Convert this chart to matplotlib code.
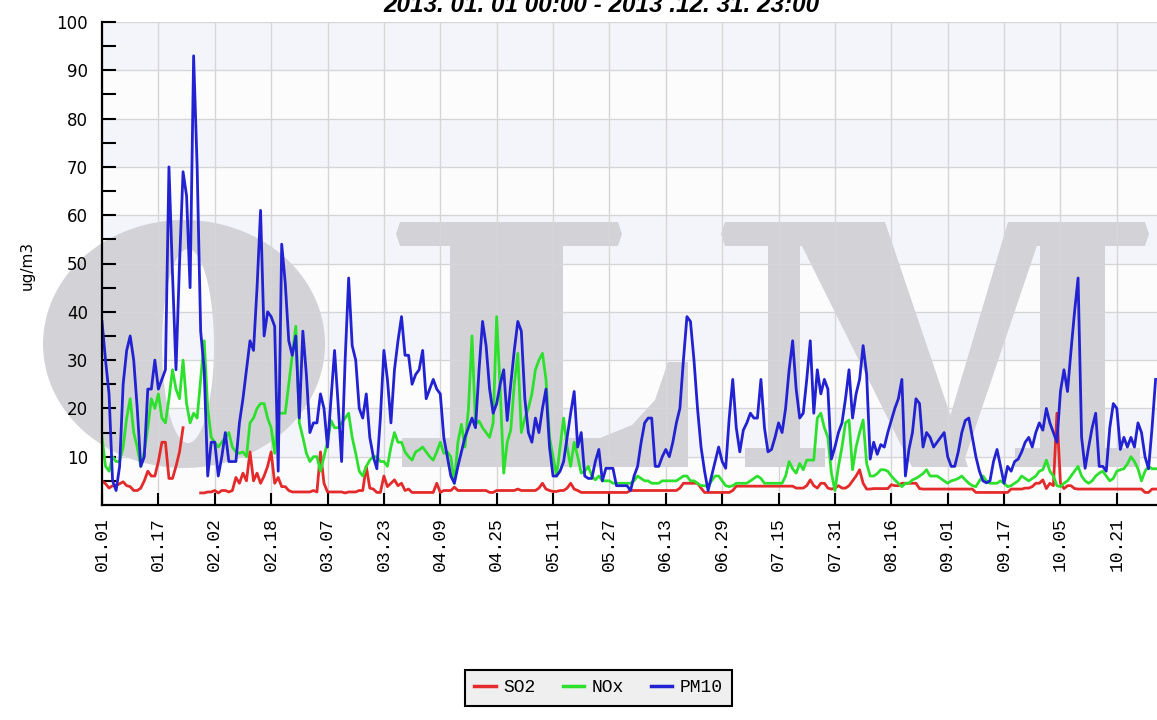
import numpy as np
import matplotlib
matplotlib.use("Agg")
import matplotlib.pyplot as plt
from matplotlib.path import Path
from matplotlib.patches import PathPatch, Polygon
from matplotlib.font_manager import FontProperties
from matplotlib.lines import Line2D

W, H = 1157, 720
nan = float("nan")

title = "2013. 01. 01 00:00 - 2013 .12. 31. 23:00"
tick_labels = ["01.01", "01.17", "02.02", "02.18", "03.07", "03.23", "04.09",
               "04.25", "05.11", "05.27", "06.13", "06.29", "07.15", "07.31",
               "08.16", "09.01", "09.17", "10.05", "10.21"]

# daily means, ug/m3
pm10 = [38, 30, 23, 5, 3, 8, 25, 32, 35, 30,
        20, 8, 10, 24, 24, 30, 24, 26, 28, 70,
        48, 28, 50, 69, 64, 45, 93, 70, 36, 28,
        6, 13, 13, 6, 10, 15, 9, 9, 9, 17,
        22, 28, 34, 32, 45, 61, 35, 40, 39, 37,
        7, 54, 46, 34, 31, 35, 18, 36, 27, 15,
        17, 17, 23, 20, 12, 22, 32, 21, 9, 30,
        47, 33, 30, 20, 18, 23, 14, 10, 7.5, 18,
        32, 26, 17, 28, 34, 39, 31, 31, 25, 27,
        28, 32, 22, 24, 26, 24, 23, 14, 10, 6,
        4.5, 8, 11, 14, 16, 18, 16, 28, 38, 33,
        24, 19, 21, 25, 28, 17.5, 25, 32, 38, 36,
        22, 15, 13, 18, 15, 20, 24, 12, 6, 6,
        7, 9, 14, 19, 23.5, 12, 15, 6, 5.5, 5.5,
        9, 11.5, 5, 7.6, 7.6, 7.6, 4, 4, 4, 4,
        3, 6, 8, 13, 17, 18, 18, 8, 8, 10,
        11.5, 10, 13, 17, 20, 30, 39, 38, 30, 20,
        12, 7, 3, 6, 9, 12, 9, 7.6, 18, 26,
        16, 11, 15.5, 17, 19, 18, 18, 26, 16, 11,
        11.5, 14, 17, 15, 20, 28, 34, 24, 18, 19,
        26, 34, 19, 28, 23, 26, 24, 9.5, 12, 15,
        17, 22, 28, 18, 23, 26, 33, 27, 9.5, 13,
        10.5, 12.5, 12, 15, 17.5, 20, 22, 26, 6, 11.5,
        15, 22, 21, 12, 15, 14, 12, 13, 14, 15,
        10, 8, 8, 11, 15, 17.5, 18, 14, 10, 7,
        5, 4.6, 5, 9, 11.5, 8, 4.5, 8, 7, 9,
        9.5, 11, 13, 14, 12, 15, 17, 15.5, 20, 17,
        15, 13, 23.5, 28, 23.5, 32, 40, 47, 14, 7.6,
        12, 16, 19, 8, 8, 7, 16, 21, 20, 11.5,
        14, 12, 14, 12, 17, 15, 10, 7.5, 16, 26]

nox = [14, 8, 7, 10, 9, 9, 12, 18, 22, 15,
       12, 8, 11, 16, 22, 20, 23, 18, 17, 22,
       28, 24, 22, 30, 21, 17, 19, 18, 26, 34,
       20, 14, 13, 12, 13, 14, 15, 12, 11, 10.7,
       11, 10, 17, 18, 20, 21, 21, 18, 16, 10.7,
       19, 19, 19, 25, 31, 37, 17, 14, 10.7, 9,
       10, 10, 7, 10, 13, 17.5, 16, 16, 17, 18,
       19, 14, 10.7, 7, 6, 8, 9.3, 10, 10, 9,
       9, 8, 12, 15, 13, 13, 11, 10, 9.3, 11,
       11.4, 12, 11, 10, 9.3, 11, 13, 10.7, 11, 10,
       4.5, 13, 16.7, 12, 20, 35, 16.7, 17.4, 16, 15,
       14, 17, 39, 24, 6.6, 13, 15.5, 25, 31.4, 15,
       18, 20, 23, 28, 30, 31.4, 26, 14, 10, 6,
       12, 18, 12, 8, 13, 10, 6.6, 7, 8, 6,
       5.2, 6, 5, 5, 5, 4.5, 4.5, 4.5, 4.5, 4.5,
       4.5, 5, 6, 5.5, 5, 5, 4.5, 4.5, 4.5, 5,
       5, 5, 5, 5, 5.5, 6, 6, 5, 5, 4.5,
       4, 4, 3.8, 5, 6, 6, 5, 4, 3.8, 4,
       4.5, 4.5, 4.5, 4.5, 5, 5.5, 6, 5.5, 4.5, 4.5,
       4.5, 4.5, 4.5, 4.5, 6, 9, 7.5, 6.6, 8.6, 7.3,
       9.3, 9.3, 9.3, 18, 19, 16, 14, 6.6, 3, 8,
       12, 17, 17.6, 7.3, 12, 15, 17.6, 8.6, 6, 6,
       6.5, 7.3, 7.3, 7, 6, 5.2, 4.5, 3.8, 4.5, 4.5,
       5.2, 5.5, 6, 6.5, 7.3, 6, 6, 6, 5.5, 5,
       4.5, 5, 5.2, 5.5, 6, 5.2, 4.5, 4, 3.8, 5,
       6, 5, 4.5, 4.5, 4.5, 5, 4.5, 3.8, 4, 4.5,
       5, 6, 5.5, 5, 5.5, 6, 7, 7.3, 9.3, 7,
       6, 4, 3.8, 4.5, 5, 6, 7, 8, 6, 5,
       4.5, 5, 6, 6.6, 7, 6, 5, 5.5, 7, 7.3,
       7.5, 8.5, 10, 9, 7.5, 5, 7, 8, 7.5, 7.5]

so2 = [5, 4.4, 3.5, 4, 4, 4.4, 4.8, 4, 3.8, 3,
       3, 3.5, 5, 7, 6, 6, 9, 13, 13, 5.5,
       5.5, 8, 11, 16, nan, nan, nan, nan, 2.5, 2.5,
       2.7, 2.7, 3, 2.5, 3, 3, 2.7, 3, 5.7, 4.5,
       6.6, 5, 11, 5, 6.6, 4.5, 6, 8, 11, 4.5,
       5.7, 3.8, 3.8, 3, 2.7, 2.7, 2.7, 2.7, 2.7, 2.7,
       3, 2.7, 11, 4.5, 2.7, 2.7, 2.7, 2.7, 2.7, 2.5,
       2.7, 2.7, 2.7, 3, 3, 8, 3.5, 3.3, 2.6, 2.6,
       6, 3.8, 4.5, 5.2, 4, 4.5, 3, 3.3, 2.6, 2.6,
       2.6, 2.6, 2.6, 2.6, 2.6, 4.5, 2.6, 3, 3, 3,
       3.7, 3, 3, 3, 3, 3, 3, 3, 3, 3,
       2.6, 2.6, 3, 3, 3, 3, 3, 3, 3.3, 3,
       3, 3, 3, 3, 3.5, 4.5, 3.3, 3, 2.8, 2.8,
       3, 3, 3.5, 4.5, 3.3, 3, 2.6, 2.6, 2.6, 2.6,
       2.6, 2.6, 2.6, 2.6, 2.6, 2.6, 2.6, 2.6, 2.6, 2.6,
       3, 3, 3, 3, 3, 3, 3, 3, 3, 3,
       3, 3, 3, 3, 3.5, 4.5, 4.5, 4.5, 4.5, 4.5,
       3.5, 2.6, 2.6, 2.6, 2.6, 2.6, 2.6, 2.6, 2.6, 3,
       3.9, 3.9, 3.9, 3.9, 3.9, 3.9, 3.9, 3.9, 3.9, 3.9,
       3.9, 3.9, 3.9, 3.9, 3.9, 3.9, 3.9, 3.5, 3.5, 3.5,
       4, 5.2, 4, 3.5, 4.5, 4.5, 3.5, 3.3, 3.5, 4,
       3.5, 3.5, 4, 5, 6, 7.3, 4.5, 3.3, 3.3, 3.4,
       3.4, 3.4, 3.4, 3.4, 4.2, 4, 4, 4.5, 4.5, 4.5,
       4.5, 4.5, 3.4, 3.3, 3.3, 3.3, 3.3, 3.3, 3.3, 3.3,
       3.3, 3.3, 3.3, 3.3, 3.3, 3.3, 3.3, 3.3, 2.6, 2.6,
       2.6, 2.6, 2.6, 2.6, 2.6, 2.6, 2.6, 2.6, 3.3, 3.3,
       3.3, 3.3, 3.5, 3.5, 3.8, 4.5, 4.5, 5.2, 3.4, 4.5,
       4, 19, 4.5, 3.4, 4, 4, 3.4, 3.3, 3.3, 3.3,
       3.3, 3.3, 3.3, 3.3, 3.3, 3.3, 3.3, 3.3, 3.3, 3.3,
       3.3, 3.3, 3.3, 3.3, 3.3, 3.3, 2.6, 2.6, 3.3, 3.3]

series = [("SO2", so2, "#e42a2a"), ("NOx", nox, "#2ee02e"), ("PM10", pm10, "#2222d2")]

fig = plt.figure(figsize=(W / 100, H / 100), dpi=100)
ax = fig.add_axes([102 / W, 1 - 505 / H, 1 - 102 / W, (505 - 22) / H])

days = np.arange(len(pm10))

# soft background bands
for lo in range(0, 100, 10):
    ax.axhspan(lo, lo + 10, color="#f4f5fa" if (lo // 10) % 2 else "#fcfcfd", lw=0, zorder=0.1)

# big grey "OLM" logo behind the data, shapes given in image pixels
logo_col = "#d3d3d7"


def fx(pts):
    return [(x / W, 1 - y / H) for x, y in pts]


def logo_poly(pts):
    ax.add_artist(Polygon(fx(pts), closed=True, transform=fig.transFigure,
                          fc=logo_col, ec="none", zorder=0.3, clip_on=False))


t = np.linspace(0, 2 * np.pi, 120)
outer = list(zip(184 + 141 * np.cos(t), 344 + 124 * np.sin(t)))
inner = list(zip(188 + 26 * np.cos(t), 346 + 97 * np.sin(t)))[::-1]
verts = fx(outer) + fx(inner)
codes = ([Path.MOVETO] + [Path.LINETO] * (len(outer) - 1)
         + [Path.MOVETO] + [Path.LINETO] * (len(inner) - 1))
ax.add_artist(PathPatch(Path(verts, codes), transform=fig.transFigure,
                        fc=logo_col, ec="none", zorder=0.3, clip_on=False))

# L
logo_poly([(400, 222), (618, 222), (622, 234), (618, 246), (400, 246), (396, 234)])
logo_poly([(450, 222), (563, 222), (563, 467), (450, 467)])
logo_poly([(402, 438), (600, 438), (632, 425), (655, 400), (668, 362), (688, 362),
           (688, 467), (402, 467)])
# M
logo_poly([(725, 222), (880, 222), (884, 234), (880, 246), (725, 246), (721, 234)])
logo_poly([(768, 222), (800, 222), (800, 467), (768, 467)])
logo_poly([(745, 448), (825, 448), (825, 467), (745, 467)])
logo_poly([(790, 222), (885, 222), (968, 467), (912, 467)])
logo_poly([(1008, 222), (1045, 222), (962, 467), (935, 467)])
logo_poly([(1040, 222), (1105, 222), (1105, 467), (1040, 467)])
logo_poly([(1012, 222), (1145, 222), (1149, 234), (1145, 246), (1012, 246)])
logo_poly([(1015, 448), (1140, 448), (1140, 467), (1015, 467)])

ax.set_axisbelow(True)
ax.grid(True, color="#d6d6d9", lw=1)

for name, vals, col in series:
    ax.plot(days, vals, color=col, lw=2, zorder=2)

ax.set_xlim(0, 299.4)
ax.set_ylim(0, 100)

ax.set_xticks(days[::16])
ax.set_xticklabels(tick_labels, rotation=90, family="Liberation Mono", fontsize=13)
ax.set_yticks(range(10, 101, 10))
ax.set_yticks(range(5, 100, 10), minor=True)
ax.tick_params(axis="x", direction="in", length=9, width=1.5, pad=9)
ax.tick_params(axis="y", which="both", direction="in", length=10, width=1.5, pad=10, labelsize=12)

for s in ("top", "right"):
    ax.spines[s].set_visible(False)
for s in ("left", "bottom"):
    ax.spines[s].set_linewidth(1.6)
    ax.spines[s].set_zorder(3)

fig.text(27 / W, 1 - 265 / H, "ug/m3", rotation=90, ha="center", va="center", fontsize=11)
fig.text(601 / W, 1 - 12.5 / H, title, ha="center", va="baseline", fontsize=17.5,
         family="Liberation Sans", weight="bold", style="italic")

handles = [Line2D([], [], color=c, lw=2.5) for _, _, c in series]
leg = fig.legend(handles, [n for n, _, _ in series], loc="center",
                 bbox_to_anchor=(598.5 / W, 1 - 688 / H), ncol=3,
                 prop=FontProperties(family="Liberation Mono", size=13),
                 fancybox=False, edgecolor="black", facecolor="#efefef", framealpha=1,
                 handlelength=1.2, handletextpad=0.4, columnspacing=1.5, borderpad=0.5)
leg.get_frame().set_linewidth(1.5)

fig.savefig("out.png", dpi=100)
